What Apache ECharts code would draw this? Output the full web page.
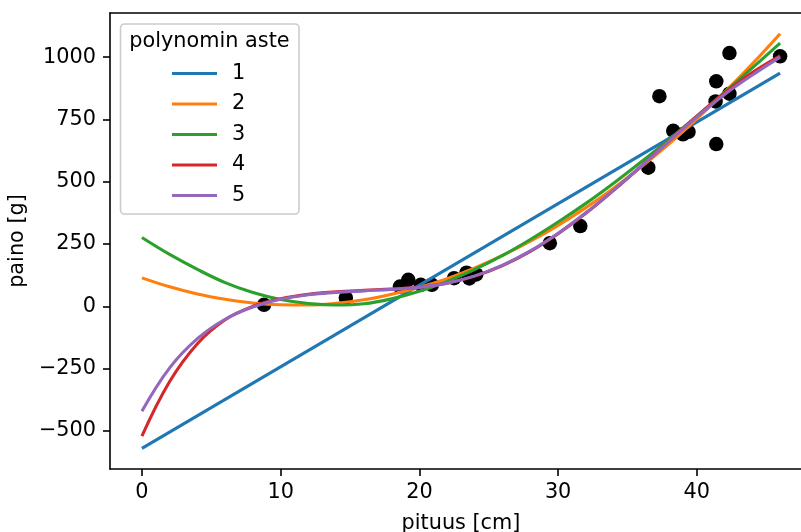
<!DOCTYPE html>
<html>
<head>
<meta charset="utf-8">
<script src="https://cdn.jsdelivr.net/npm/echarts@6/dist/echarts.min.js"></script>
<style>html,body{margin:0;padding:0;background:#fff}#c{width:801px;height:532px}</style>
</head>
<body>
<div id="c"></div>
<script>
// ---- data ----
const xTicks = [0, 10, 20, 30, 40];
const yTicks = [-500, -250, 0, 250, 500, 750, 1000];

const fishLength = [8.8, 14.7, 18.6, 19.2, 20.1, 20.9, 22.5, 23.4, 23.6, 24.1, 29.4, 31.6, 36.5, 37.3, 38.3, 39.0, 39.4, 41.4, 41.35, 41.4, 42.35, 42.35, 46.0];
const fishWeight = [6, 34, 79, 106, 86, 86, 113, 135, 112, 128, 253, 322, 556, 843, 704, 690, 700, 651, 822, 903, 853, 1016, 1003];

const degreeNames = ['1', '2', '3', '4', '5'];
const fitX1 = [0, 46];
const fitY1 = [-570, 936];
const fitX = [0, 2, 4, 6, 8, 10, 12, 14, 16, 18, 20, 22, 24, 26, 28, 30, 32, 34, 36, 38, 40, 42, 44, 46];
const fitY2 = [114, 78, 49, 28, 13, 6, 5, 12, 26, 48, 76, 111, 154, 204, 261, 325, 396, 474, 560, 652, 752, 859, 973, 1094];
const fitY3 = [276, 208, 148, 95, 55, 27, 11, 5, 10, 30, 60, 100, 148, 204, 268, 338, 413, 494, 580, 670, 763, 859, 957, 1056];
const fitY4 = [-521, -302, -150, -54, 0, 30, 48, 58, 64, 69, 77, 93, 121, 163, 220, 291, 373, 465, 563, 664, 763, 856, 938, 1005];
const fitY5 = [-421, -247, -130, -52, -3, 28, 46, 56, 62, 68, 76, 93, 122, 165, 222, 293, 375, 466, 563, 663, 760, 850, 928, 1000];
const colors = ['#1f77b4', '#ff7f0e', '#2ca02c', '#d62728', '#9467bd'];

const zip = (xs, ys) => xs.map((x, i) => [x, ys[i]]);
const fits = [zip(fitX1, fitY1), zip(fitX, fitY2), zip(fitX, fitY3), zip(fitX, fitY4), zip(fitX, fitY5)];

const FONT = 'DejaVu Sans';
const FS = 20.8;
const chart = echarts.init(document.getElementById('c'), null, {renderer: 'canvas'});

const series = [{
  type: 'scatter',
  name: 'data',
  data: zip(fishLength, fishWeight),
  symbolSize: 14.5,
  itemStyle: {color: '#000', opacity: 1},
  z: 1
}];
fits.forEach((d, i) => {
  series.push({
    type: 'line',
    name: degreeNames[i],
    data: d,
    showSymbol: false,
    smooth: i === 0 ? false : 0.4,
    lineStyle: {color: colors[i], width: 3.1},
    itemStyle: {color: colors[i]},
    z: 2 + i
  });
});

const axisBase = {
  type: 'value',
  axisLine: {show: true, onZero: false, lineStyle: {color: '#000', width: 1.6}},
  splitLine: {show: false}
};

chart.setOption({
  animation: false,
  backgroundColor: '#fff',
  grid: {left: 110, top: 13, right: -11, bottom: 63, containLabel: false, outerBoundsMode: 'none', show: false},
  xAxis: [Object.assign({}, axisBase, {
    min: -2.3, max: 48.3, position: 'bottom',
    name: 'pituus [cm]', nameLocation: 'middle', nameGap: 44,
    nameTextStyle: {fontFamily: FONT, fontSize: FS, color: '#000'},
    axisTick: {show: true, inside: false, length: 7, lineStyle: {color: '#000', width: 1.6}, customValues: xTicks},
    axisLabel: {show: true, margin: 13, fontFamily: FONT, fontSize: FS, color: '#000', customValues: xTicks}
  }), Object.assign({}, axisBase, {
    min: -2.3, max: 48.3, position: 'top',
    axisTick: {show: false}, axisLabel: {show: false}
  })],
  yAxis: Object.assign({}, axisBase, {
    min: -653, max: 1177,
    name: 'paino [g]', nameLocation: 'middle', nameGap: 77, nameRotate: 90,
    nameTextStyle: {fontFamily: FONT, fontSize: FS, color: '#000'},
    axisTick: {show: true, inside: false, length: 7, lineStyle: {color: '#000', width: 1.6}, customValues: yTicks},
    axisLabel: {show: true, margin: 14, fontFamily: FONT, fontSize: FS, color: '#000', customValues: yTicks,
      formatter: v => String(v).replace('-', '\u2212')}
  }),
  legend: {
    data: degreeNames,
    orient: 'vertical',
    left: 167, top: 58,
    itemWidth: 45, itemHeight: 3, itemGap: 9.5,
    icon: 'rect',
    textStyle: {fontFamily: FONT, fontSize: FS, color: '#000', padding: [0, 0, 0, 10]},
    z: 20
  },
  graphic: [
    {type: 'rect', shape: {x: 120.5, y: 24, width: 178.5, height: 190, r: 4},
     style: {fill: 'rgba(255,255,255,0.8)', stroke: '#cccccc', lineWidth: 1.6}, z: 10},
    {type: 'text', x: 209.5, y: 42, z: 11,
     style: {text: 'polynomin aste', fontFamily: FONT, fontSize: FS, fill: '#000', align: 'center', verticalAlign: 'middle'}}
  ],
  series: series
});
</script>
</body>
</html>
